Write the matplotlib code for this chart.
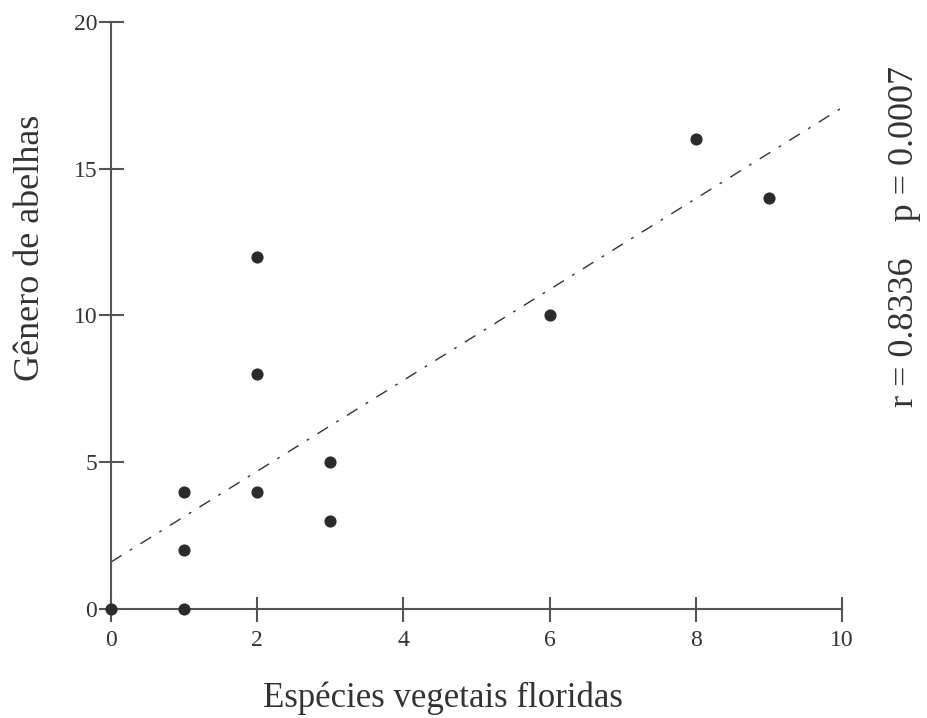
import numpy as np
import matplotlib
matplotlib.use('Agg')
import matplotlib.pyplot as plt

# data
especies = [0, 1, 1, 1, 2, 2, 2, 3, 3, 6, 8, 9]
generos = [0, 0, 2, 4, 4, 8, 12, 3, 5, 10, 16, 14]
x_ticks = [0, 2, 4, 6, 8, 10]
y_ticks = [0, 5, 10, 15, 20]
stats_text = 'r = 0.8336    p = 0.0007'

plt.rcParams['font.family'] = ['Liberation Serif', 'DejaVu Serif']

fig = plt.figure(figsize=(9.27, 7.18), dpi=100)
ax = fig.add_axes([0.1197, 0.1518, 0.7886, 0.8176])

slope, intercept = np.polyfit(especies, generos, 1)
xs = np.array([0, 10])
ax.plot(xs, slope * xs + intercept, color='#333333', lw=1.0,
        dashes=(9, 7, 2, 7))

ax.scatter(especies, generos, s=60, color='#2b2b2b', zorder=3, clip_on=False)

ax.set_xlim(0, 10)
ax.set_ylim(0, 20)
ax.set_xticks(x_ticks)
ax.set_yticks(y_ticks)

for side in ['top', 'right']:
    ax.spines[side].set_visible(False)
for side in ['left', 'bottom']:
    ax.spines[side].set_color('#555555')
    ax.spines[side].set_linewidth(1.5)

ax.tick_params(direction='inout', length=18, width=1.5, color='#555555',
               labelsize=17, labelcolor='#333333')
ax.tick_params(axis='x', pad=6)
ax.tick_params(axis='y', pad=1)

ax.set_xlabel('Espécies vegetais floridas', fontsize=25, color='#333333')
ax.set_ylabel('Gênero de abelhas', fontsize=26, color='#333333')
ax.xaxis.set_label_coords(0.454, -0.152)
ax.xaxis.label.set_va('center')
ax.yaxis.set_label_coords(-0.11, 0.615)
ax.yaxis.label.set_va('center')

fig.text(0.976, 0.67, stats_text, rotation=90, fontsize=26, color='#333333',
         ha='center', va='center')

fig.savefig('out.png', dpi=100, facecolor='white')
